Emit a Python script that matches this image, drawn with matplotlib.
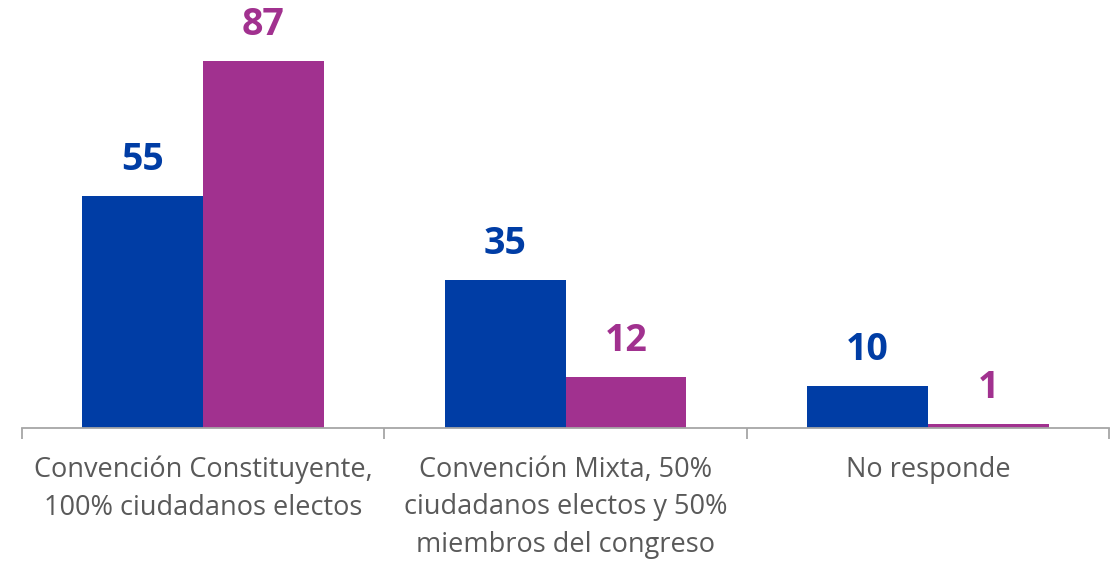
import matplotlib.pyplot as plt
import numpy as np

categories = ['Convención Constituyente,\n100% ciudadanos electos',
              'Convención Mixta, 50%\nciudadanos electos y 50%\nmiembros del congreso',
              'No responde']
serie_a = [55, 35, 10]
serie_b = [87, 12, 1]

azul = '#003DA5'
morado = '#A1318F'

plt.rcParams['font.family'] = ['Open Sans', 'DejaVu Sans']

fig = plt.figure(figsize=(11.15, 5.64), dpi=100)
ax = fig.add_axes([22 / 1115, 136 / 564, 1087 / 1115, 428 / 564])

x = np.arange(len(categories))
w = 1 / 3
ax.bar(x - w / 2, serie_a, width=w, color=azul)
ax.bar(x + w / 2, serie_b, width=w, color=morado)

for xi, v in zip(x, serie_a):
    ax.text(xi - w / 2, v + 4, str(v), ha='center', va='bottom',
            fontsize=27, fontweight='bold', color=azul)
for xi, v in zip(x, serie_b):
    ax.text(xi + w / 2, v + 4, str(v), ha='center', va='bottom',
            fontsize=27, fontweight='bold', color=morado)

ax.set_xlim(-0.5, 2.5)
ax.set_ylim(0, 101.4)
for s in ['top', 'right', 'left']:
    ax.spines[s].set_visible(False)
ax.spines['bottom'].set_color('#A6A6A6')
ax.spines['bottom'].set_linewidth(1.3)
ax.set_yticks([])
ax.set_xticks([-0.5, 0.5, 1.5, 2.5])
ax.set_xticklabels([])
ax.tick_params(axis='x', length=8, width=1.3, color='#A6A6A6')
ax.set_xticks(x, minor=True)
ax.set_xticklabels(categories, minor=True)
ax.tick_params(axis='x', which='minor', length=0, pad=20, labelsize=19.5,
               labelcolor='#595959')
for lbl in ax.get_xticklabels(minor=True):
    lbl.set_linespacing(1.45)

plt.savefig('out.png')
